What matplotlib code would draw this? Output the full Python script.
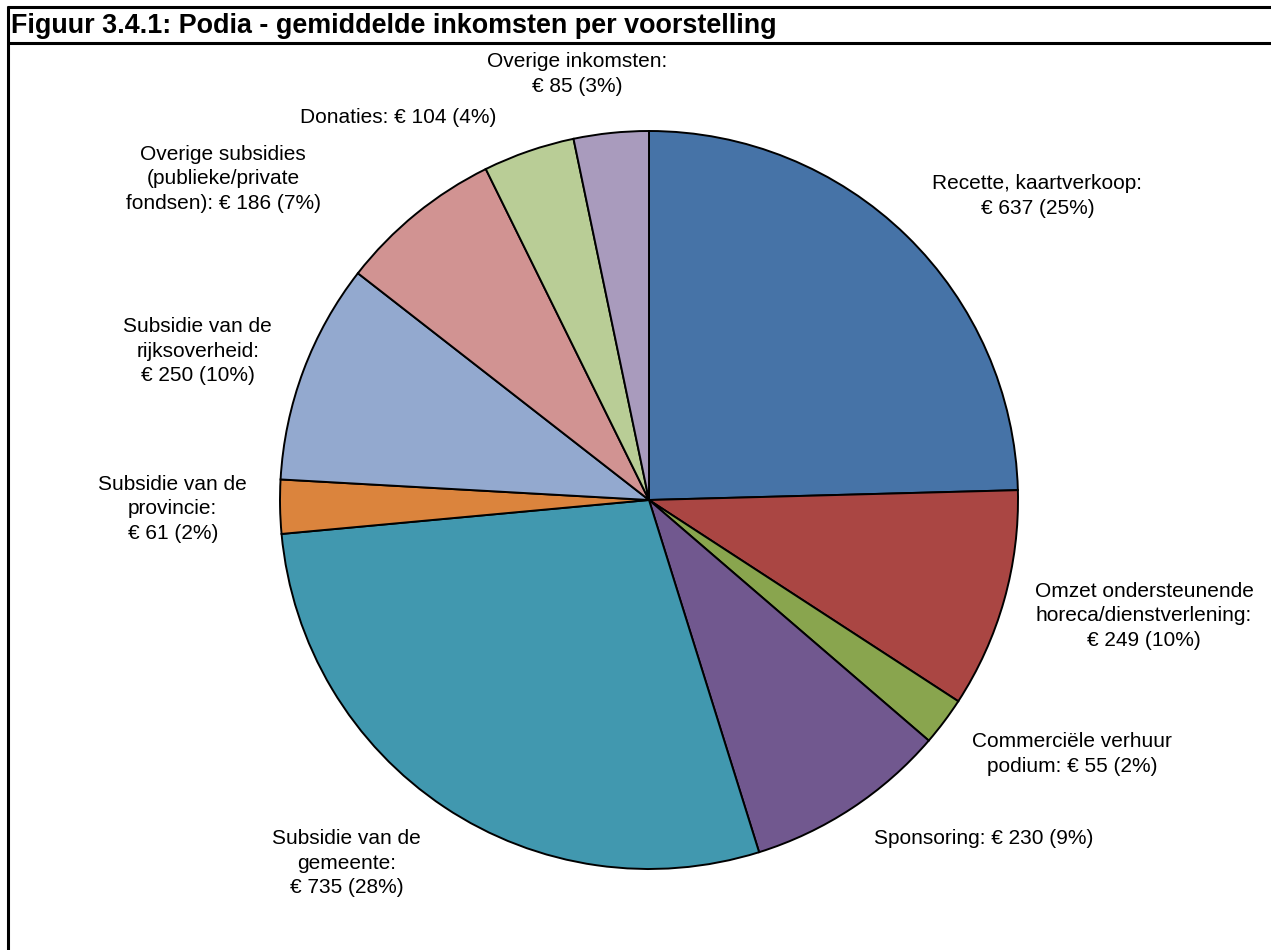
import matplotlib
matplotlib.use('Agg')
import matplotlib.pyplot as plt
import numpy as np

plt.rcParams['font.family'] = ['Liberation Sans', 'DejaVu Sans']

# data
labels = ['Recette, kaartverkoop:', 'Omzet ondersteunende\nhoreca/dienstverlening:',
          'Commerciële verhuur\npodium:', 'Sponsoring:', 'Subsidie van de\ngemeente:',
          'Subsidie van de\nprovincie:', 'Subsidie van de\nrijksoverheid:',
          'Overige subsidies\n(publieke/private\nfondsen):', 'Donaties:', 'Overige inkomsten:']
values = [637, 249, 55, 230, 735, 61, 250, 186, 104, 85]
colors = ['#4673A7', '#AA4643', '#89A54E', '#71588F', '#4198AF',
          '#DB843D', '#93A9CF', '#D19392', '#B9CD96', '#A99BBD']
# whether the amount goes on a new line
newline = [True, True, False, False, True, True, True, False, False, True]

# label placement: angle nudge (deg) from slice middle, distance in radii
nudge = [-7.7, 2.6, 5.9, 11.4, -6.1, 0.0, 2.3, 13.8, 14.2, 3.7]
dist = [1.337, 1.378, 1.337, 1.29, 1.281, 1.291, 1.288, 1.446, 1.240, 1.171]

W, H = 1271, 950
fig = plt.figure(figsize=(W / 100, H / 100), dpi=100)
ax = fig.add_axes([0, 0, 1, 1])

cx, cy, R = 649, H - 500, 369
wedges, _ = ax.pie(values, colors=colors, startangle=90, counterclock=False,
                   center=(cx, cy), radius=R, frame=True,
                   wedgeprops=dict(edgecolor='black', linewidth=1.4))
ax.set_xlim(0, W)
ax.set_ylim(0, H)
ax.set_aspect('equal')
ax.axis('off')

total = sum(values)
for w, lab, v, nl, dn, r in zip(wedges, labels, values, newline, nudge, dist):
    mid = np.deg2rad((w.theta1 + w.theta2) / 2 + dn)
    pct = round(v / total * 100)
    sep = '\n' if nl else ' '
    txt = f'{lab}{sep}€ {v} ({pct}%)'
    ax.text(cx + r * R * np.cos(mid), cy + r * R * np.sin(mid), txt,
            ha='center', va='center', multialignment='center', fontsize=15,
            linespacing=1.36)

# frame: top rule, title rule, left rule
ax.plot([7, W], [H - 7, H - 7], color='black', lw=2.2, solid_capstyle='butt')
ax.plot([7, W], [H - 43, H - 43], color='black', lw=2.2, solid_capstyle='butt')
ax.plot([8, 8], [H - 6, 0], color='black', lw=2.2, solid_capstyle='butt')
ax.text(11, H - 26, 'Figuur 3.4.1: Podia - gemiddelde inkomsten per voorstelling',
        fontsize=19.4, fontweight='bold', ha='left', va='center')

fig.savefig('out.png', dpi=100)
